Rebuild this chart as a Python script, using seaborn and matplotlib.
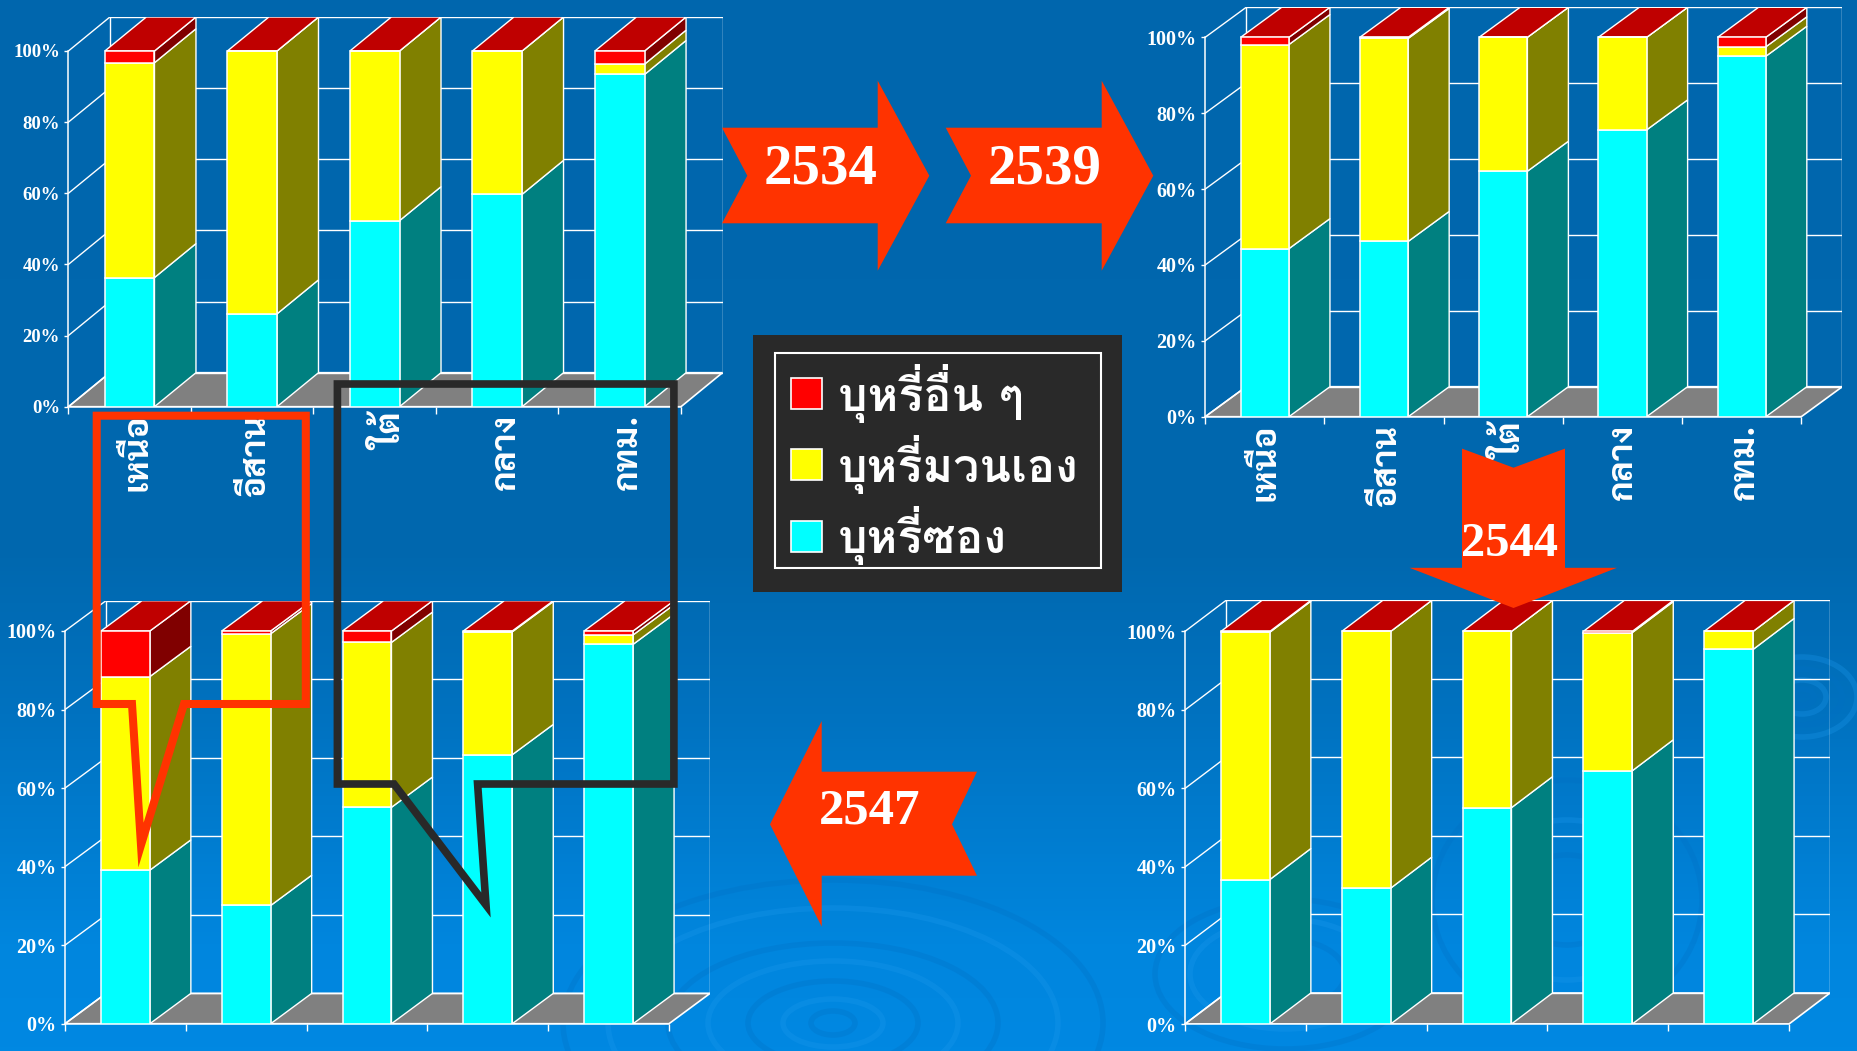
import numpy as np
import seaborn as sns
import matplotlib
matplotlib.use('Agg')
import matplotlib.pyplot as plt
from matplotlib.patches import Polygon, Rectangle, Ellipse
from matplotlib.colors import LinearSegmentedColormap
from matplotlib.transforms import ScaledTranslation

sns.set_style('ticks')
thai_font = ['Sarabun', 'Noto Sans Thai', 'Noto Serif Thai', 'DejaVu Sans']
legend_font = ['Loma', 'Sarabun', 'Noto Sans Thai', 'DejaVu Sans']  # Loma keeps the tone mark above sara ii
serif_font = ['Liberation Serif', 'DejaVu Serif']
plt.rcParams['font.family'] = serif_font

# data
regions = ['เหนือ', 'อีสาน', 'ใต้', 'กลาง', 'กทม.']
legend_names = ['บุหรี่อื่น ๆ', 'บุหรี่มวนเอง', 'บุหรี่ซอง']
pct_ticks = [0, 20, 40, 60, 80, 100]

pack_2534 = [36.3, 26.1, 52.3, 59.7, 93.4]
roll_2534 = [60.4, 73.9, 47.7, 40.3, 2.9]
other_2534 = [3.3, 0, 0, 0, 3.7]

pack_2539 = [44.3, 46.2, 64.7, 75.6, 95.0]
roll_2539 = [53.8, 53.5, 35.3, 24.4, 2.5]
other_2539 = [1.9, 0.3, 0, 0, 2.5]

pack_2544 = [36.8, 34.6, 55.1, 64.5, 95.4]
roll_2544 = [63.0, 65.4, 44.9, 35.2, 4.6]
other_2544 = [0.2, 0, 0, 0.3, 0]

pack_2547 = [39.1, 30.1, 55.1, 68.5, 96.6]
roll_2547 = [49.3, 69.2, 42.0, 31.3, 2.4]
other_2547 = [11.6, 0.7, 2.9, 0.2, 1.0]

# front, side colours
CYAN, CYAN_S = '#00FFFF', '#008080'
YEL, YEL_S = '#FFFF00', '#808000'
RED, RED_S = '#FF0000', '#800000'
TOP = '#BF0000'
ORANGE = '#FF3300'
DARK = '#292929'

W, H = 1858, 1051
fig = plt.figure(figsize=(W / 100, H / 100), dpi=100)

# background
bg = fig.add_axes([0, 0, 1, 1], zorder=0)
cmap = LinearSegmentedColormap.from_list('bg', [(0, '#0066AD'), (0.53, '#0068AF'), (0.68, '#0072C0'),
                                                (0.9, '#0086DE'), (1, '#0088E2')])
bg.imshow(np.linspace(0, 1, 256).reshape(-1, 1), cmap=cmap, aspect='auto', extent=[0, W, H, 0])
for cx, cy, rings in [(833, 1023, [(22, 12), (50, 24), (85, 42), (125, 62), (165, 80), (225, 115), (270, 143)]),
                      (1802, 697, [(12, 8), (24, 17), (40, 28), (55, 40)]),
                      (1567, 900, [(55, 45), (95, 80), (135, 120)]),
                      (1285, 974, [(60, 35), (95, 55), (130, 75)])]:
    for n, (rx, ry) in enumerate(rings):
        ring = '#1C98EC' if n % 2 else '#0070C4'
        bg.add_patch(Ellipse((cx, cy), 2 * rx, 2 * ry, fill=False, ec=ring, lw=4, alpha=0.3))
bg.set_xlim(0, W)
bg.set_ylim(H, 0)
bg.axis('off')


def draw_chart(pack, roll, other, x0, x1, y0, y100, dx_px, dy_px, tick_size, label_dx=None):
    cat = (x1 - x0) / 5
    dx = dx_px / cat
    dy = dy_px / (y0 - y100) * 100
    ax = fig.add_axes([x0 / W, 1 - y0 / H, (x1 - x0 + dx_px) / W, (y0 - y100 + dy_px) / H], zorder=5)
    ax.patch.set_visible(False)
    bar_w = 0.405

    pack = np.array(pack)
    roll = np.array(roll)
    other = np.array(other)
    stack = [(pack, np.zeros(5), CYAN, CYAN_S),
             (roll, pack, YEL, YEL_S),
             (other, pack + roll, RED, RED_S)]
    for vals, bots, col, side in stack:
        sns.barplot(x=regions, y=vals, bottom=bots, color=col, saturation=1, width=bar_w,
                    edgecolor='white', linewidth=1.1, zorder=4, errorbar=None, ax=ax)
        for i in range(5):
            r = i + bar_w / 2
            ax.add_patch(Polygon([(r, bots[i]), (r + dx, bots[i] + dy), (r + dx, bots[i] + vals[i] + dy),
                                  (r, bots[i] + vals[i])], fc=side, ec='white', lw=1, zorder=3))
    # top of each bar, stack always reaches 100
    tops = pack + roll + other
    for i in range(5):
        l, r = i - bar_w / 2, i + bar_w / 2
        ax.add_patch(Polygon([(l, tops[i]), (r, tops[i]), (r + dx, tops[i] + dy), (l + dx, tops[i] + dy)],
                             fc=TOP, ec='white', lw=1, zorder=3))

    # floor and walls
    ax.add_patch(Polygon([(-0.5, 0), (4.5, 0), (4.5 + dx, dy), (-0.5 + dx, dy)],
                         fc='#808080', ec='white', lw=1.2, zorder=1))
    for v in pct_ticks:
        ax.plot([-0.5, -0.5 + dx], [v, v + dy], color='white', lw=1, zorder=2)
        ax.plot([-0.5 + dx, 4.5 + dx], [v + dy, v + dy], color='white', lw=1, zorder=2)
    ax.plot([-0.5 + dx, -0.5 + dx], [dy, 100 + dy], color='white', lw=1, zorder=2)
    ax.plot([4.5 + dx, 4.5 + dx], [dy, 100 + dy], color='white', lw=1, zorder=2)

    ax.set_xlim(-0.5, 4.5 + dx)
    ax.set_ylim(0, 100 + dy)
    sns.despine(ax=ax, top=True, right=True)
    for s in ['left', 'bottom']:
        ax.spines[s].set_color('white')
        ax.spines[s].set_linewidth(1.1)
    ax.spines['left'].set_bounds(0, 100)
    ax.spines['bottom'].set_bounds(-0.5, 4.5)
    ax.set_xlabel('')
    ax.set_ylabel('')

    ax.set_yticks(pct_ticks)
    ax.set_yticklabels([str(v) + '%' for v in pct_ticks], fontsize=tick_size, fontweight='bold',
                       color='white', family=serif_font)
    ax.tick_params(axis='y', colors='white', length=3, width=1, pad=3)
    ax.set_xticks(np.arange(-0.5, 5), minor=True)
    ax.tick_params(axis='x', which='minor', colors='white', length=5, width=1)
    ax.set_xticks(range(5))
    if label_dx is not None:
        ax.set_xticklabels(regions, rotation=90, fontsize=25, fontweight='bold', color='white',
                           family=thai_font, ha='center', va='top')
        ax.tick_params(axis='x', which='major', length=0, pad=5)
        for lab, off in zip(ax.get_xticklabels(), label_dx):
            lab.set_transform(lab.get_transform() + ScaledTranslation(off / 100, 0, fig.dpi_scale_trans))
    else:
        ax.set_xticklabels([])
        ax.tick_params(axis='x', which='major', length=0)


draw_chart(pack_2534, roll_2534, other_2534, 68.4, 681, 406.7, 51, 41.5, 34, 13.5, [8, 3, 18, 8, 8])
draw_chart(pack_2539, roll_2539, other_2539, 1205.2, 1801.3, 416.7, 37.3, 41, 30, 14.5, [0, 3, 10, 0, 3])
draw_chart(pack_2547, roll_2547, other_2547, 65, 669, 1023.7, 631, 41, 30.3, 14.5)
draw_chart(pack_2544, roll_2544, other_2544, 1185, 1789, 1024, 631.4, 41, 31, 14.5)

# overlay in pixel coordinates for arrows, callouts, legend
ov = fig.add_axes([0, 0, 1, 1], zorder=10)
ov.patch.set_visible(False)
ov.set_xlim(0, W)
ov.set_ylim(H, 0)
ov.axis('off')

ov.add_patch(Polygon([(722, 127.7), (877.7, 127.7), (877.7, 80.7), (929.3, 175.7), (877.7, 270.7),
                      (877.7, 223.3), (722, 223.3), (747.3, 175.7)], fc=ORANGE, ec='none'))
ov.add_patch(Polygon([(945.7, 127.7), (1101.7, 127.7), (1101.7, 80.7), (1153.3, 175.7), (1101.7, 270.7),
                      (1101.7, 223.3), (945.7, 223.3), (971, 175.7)], fc=ORANGE, ec='none'))
ov.add_patch(Polygon([(1462, 448.6), (1513.5, 467.7), (1565, 448.6), (1565, 567.8), (1617, 567.8),
                      (1513.5, 608), (1409.5, 567.8), (1462, 567.8)], fc=ORANGE, ec='none'))
ov.add_patch(Polygon([(770, 824.3), (821.7, 721), (821.7, 771.7), (977, 771.7), (952, 824.3),
                      (977, 875.7), (821.7, 875.7), (821.7, 926.7)], fc=ORANGE, ec='none'))
for txt, x, y, size in [('2534', 821, 184, 41), ('2539', 1045, 184, 41), ('2544', 1510, 555.7, 35), ('2547', 870, 824, 36.5)]:
    ov.text(x, y, txt, color='white', fontsize=size, fontweight='bold', ha='center', va='baseline', family=serif_font)

# callouts
ov.add_patch(Polygon([(96.7, 415.7), (305.8, 415.7), (305.8, 704), (184, 704), (141, 845), (132, 704), (96.7, 704)],
                     fill=False, ec=ORANGE, lw=5.8, joinstyle='miter'))
ov.add_patch(Polygon([(337.4, 384), (673.9, 384), (673.9, 784), (477.6, 784), (486, 905), (394, 784), (337.4, 784)],
                     fill=False, ec=DARK, lw=5.5, joinstyle='miter'))

# legend panel
ov.add_patch(Rectangle((753, 335), 369, 256.7, fc=DARK, ec='none'))
ov.add_patch(Rectangle((774.7, 353), 326.3, 214.7, fill=False, ec='white', lw=1.5))
for name, col, top, base in zip(legend_names, [RED, YEL, CYAN], [378, 449, 520.7], [410.7, 482, 553]):
    ov.add_patch(Rectangle((790.7, top), 31.6, 31.3, fc=col, ec='white', lw=1.2))
    ov.text(838, base, name, color='white', fontsize=33.5, fontweight='bold', family=legend_font, ha='left', va='baseline')

fig.savefig('out.png', dpi=100)
